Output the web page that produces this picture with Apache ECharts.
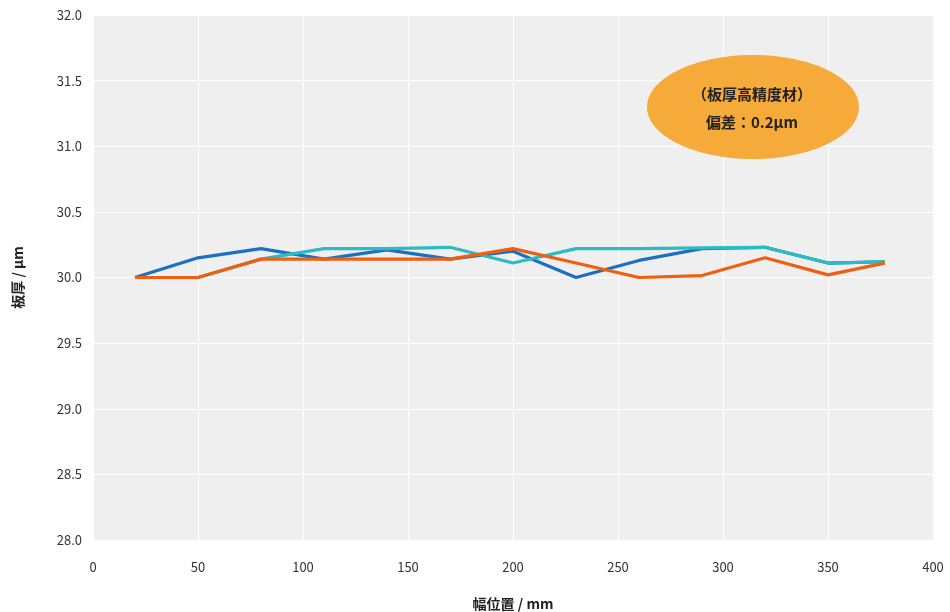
<!DOCTYPE html>
<html>
<head>
<meta charset="utf-8">
<script src="https://cdn.jsdelivr.net/npm/echarts@6/dist/echarts.min.js"></script>
<style>
  html, body { margin: 0; padding: 0; background: #fff; }
  #chart { width: 950px; height: 612px; }
</style>
</head>
<body>
<div id="chart"></div>
<script>
// 幅位置 (mm)
const positions = [20, 50, 80, 110, 140, 170, 200, 230, 260, 290, 320, 350, 377]
// 板厚 (µm)
const blueValues = [30.0, 30.15, 30.22, 30.14, 30.21, 30.14, 30.2, 30.0, 30.13, 30.22, 30.23, 30.11, 30.12]
const cyanValues = [30.0, 30.0, 30.14, 30.22, 30.22, 30.23, 30.11, 30.22, 30.22, 30.225, 30.23, 30.11, 30.12]
const orangeValues = [30.0, 30.0, 30.14, 30.14, 30.14, 30.14, 30.22, 30.11, 30.0, 30.015, 30.15, 30.02, 30.11]
const noteLines = ['（板厚高精度材）', '偏差：0.2µm']

const font = '"Noto Sans CJK JP", "Noto Sans", sans-serif'
const toPairs = (vals) => vals.map((v, i) => [positions[i], v])

const lineSeries = (name, vals, color, z) => ({
  name: name,
  type: 'line',
  data: toPairs(vals),
  symbol: 'none',
  z: z,
  lineStyle: { width: 3.2, color: color },
  itemStyle: { color: color }
})

const chart = echarts.init(document.getElementById('chart'))
chart.setOption({
  animation: false,
  textStyle: { fontFamily: font },
  grid: {
    left: 93,
    right: 17,
    top: 15,
    bottom: 72,
    outerBoundsMode: 'none',
    show: true,
    backgroundColor: '#efefef',
    borderWidth: 0
  },
  xAxis: {
    type: 'value',
    min: 0,
    max: 400,
    interval: 50,
    name: '幅位置 / mm',
    nameLocation: 'middle',
    nameGap: 57,
    nameTextStyle: { fontSize: 14, fontWeight: 'bold', color: '#222' },
    axisLine: { show: false },
    axisTick: { show: false },
    axisLabel: { margin: 21, fontSize: 13, color: '#333' },
    splitLine: { lineStyle: { color: '#ffffff', width: 1 } }
  },
  yAxis: {
    type: 'value',
    min: 28,
    max: 32,
    interval: 0.5,
    name: '板厚 / µm',
    nameLocation: 'middle',
    nameGap: 68,
    nameTextStyle: { fontSize: 14, fontWeight: 'bold', color: '#222' },
    axisLine: { show: false },
    axisTick: { show: false },
    axisLabel: {
      margin: 11,
      fontSize: 13,
      color: '#333',
      formatter: (v) => v.toFixed(1)
    },
    splitLine: { lineStyle: { color: '#ffffff', width: 1 } }
  },
  graphic: [
    {
      type: 'ellipse',
      shape: { cx: 753, cy: 107, rx: 106, ry: 52 },
      style: { fill: '#f5aa3a' },
      z: 10
    },
    {
      type: 'text',
      x: 752,
      y: 94,
      z: 11,
      style: {
        text: noteLines[0],
        font: 'bold 15px ' + font,
        fill: '#222',
        textAlign: 'center',
        textVerticalAlign: 'middle'
      }
    },
    {
      type: 'text',
      x: 752,
      y: 122,
      z: 11,
      style: {
        text: noteLines[1],
        font: 'bold 15px ' + font,
        fill: '#222',
        textAlign: 'center',
        textVerticalAlign: 'middle'
      }
    }
  ],
  series: [
    lineSeries('blue', blueValues, '#1c6fc2', 2),
    lineSeries('cyan', cyanValues, '#2abcc0', 3),
    lineSeries('orange', orangeValues, '#f05e10', 4)
  ]
})
</script>
</body>
</html>
